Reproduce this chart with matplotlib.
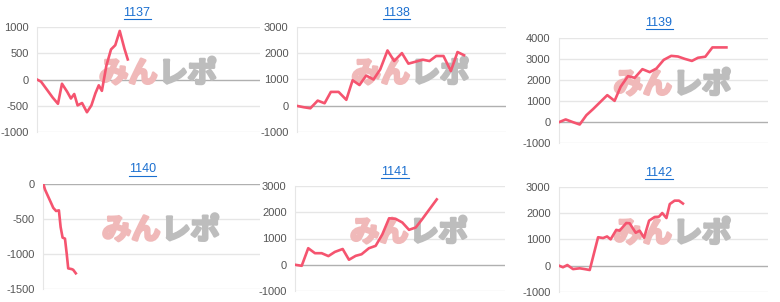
import matplotlib.pyplot as plt
import matplotlib.patheffects as pe
from matplotlib.lines import Line2D

plt.rcParams['font.family'] = ['Liberation Sans', 'DejaVu Sans']
plt.rcParams['axes.unicode_minus'] = False

# machine numbers (panel titles)
titles = ['1137', '1138', '1139', '1140', '1141', '1142']

# x positions are percent of the horizontal axis, y is the running difference
x1137 = [0, 1.8, 4.5, 7.0, 9.4, 11.2, 13.5, 15.2, 16.7, 18.2, 20.2, 22.4, 24.4, 26.2,
         27.7, 29.1, 31.1, 33.2, 35.1, 37.1, 39.2, 40.7]
y1137 = [0, -40, -195, -340, -460, -80, -230, -360, -275, -490, -445, -620, -490, -260,
         -110, -215, 260, 570, 650, 920, 585, 380]

x1138 = [0, 3.2, 6.4, 9.9, 13.2, 16.2, 19.9, 23.6, 26.6, 29.9, 33.1, 36.6, 39.8, 43.3,
         46.5, 50.2, 53.3, 57.0, 60.2, 63.4, 66.6, 70.1, 73.6, 76.8, 79.9]
y1138 = [0, -50, -90, 200, 100, 530, 530, 230, 970, 790, 1150, 1000, 1380, 2100,
         1700, 2000, 1600, 1680, 1750, 1700, 1890, 1890, 1320, 2040, 1920]

x1139 = [0, 3.2, 6.7, 9.9, 13.1, 16.3, 19.9, 23.1, 26.6, 29.5, 33.0, 36.2, 39.9, 43.4,
         46.6, 50.1, 53.7, 56.9, 60.1, 63.6, 66.5, 70.0, 73.4, 76.6, 80.1]
y1139 = [0, 130, 0, -110, 330, 620, 970, 1280, 1010, 1680, 2180, 2100, 2510, 2370,
         2540, 2950, 3140, 3110, 3000, 2900, 3050, 3100, 3540, 3540, 3540]

x1140 = [0, 0.8, 2.0, 3.4, 4.6, 5.9, 7.2, 8.0, 8.9, 10.0, 10.8, 11.5, 13.1, 13.8, 15.0]
y1140 = [0, -85, -167, -262, -345, -390, -381, -620, -770, -785, -1000, -1210, -1220,
         -1230, -1280]

x1141 = [0, 3.2, 6.3, 9.5, 12.7, 15.9, 19.0, 22.7, 25.7, 28.9, 31.7, 35.2, 38.4, 41.6,
         44.8, 47.9, 51.1, 54.3, 57.5, 60.6, 64.0, 67.5]
y1141 = [0, -40, 630, 440, 440, 330, 490, 600, 190, 340, 400, 630, 720, 1160,
         1770, 1750, 1610, 1330, 1420, 1740, 2110, 2490]

x1142 = [0, 1.9, 4.0, 6.7, 9.9, 12.3, 14.7, 18.7, 21.1, 23.0, 24.7, 27.4, 29.0, 32.2,
         33.8, 36.7, 38.6, 40.7, 43.1, 45.8, 47.8, 49.4, 51.4, 53.0, 55.3, 57.4, 59.3]
y1142 = [0, -60, 25, -130, -100, -130, -165, 1080, 1050, 1110, 1000, 1360, 1330, 1620,
         1610, 1250, 1330, 1060, 1710, 1850, 1860, 2000, 1810, 2340, 2470, 2470, 2360]

xs = [x1137, x1138, x1139, x1140, x1141, x1142]
ys = [y1137, y1138, y1139, y1140, y1141, y1142]
yticks = [[-1000, -500, 0, 500, 1000],
          [-1000, 0, 1000, 2000, 3000],
          [-1000, 0, 1000, 2000, 3000, 4000],
          [-1500, -1000, -500, 0],
          [-1000, 0, 1000, 2000, 3000],
          [-1000, 0, 1000, 2000, 3000]]

W, H = 780, 302
# axes boxes in pixels: left, top, width, height
boxes = [(37, 26.7, 223, 105.6), (297, 26.7, 209, 105.6), (559, 37.7, 209, 105.6),
         (43.3, 183.7, 216.7, 105), (295, 186, 210, 105), (559, 186.7, 209, 105.3)]
title_pos = [(137, 12.7), (396.7, 12.7), (659, 22.7), (142.7, 169.3), (395, 171.7), (659, 172.7)]

fig = plt.figure(figsize=(W / 100, H / 100), dpi=100)
fig.patch.set_facecolor('white')

title_texts = []
for i in range(6):
    l, t, w, h = boxes[i]
    ax = fig.add_axes([l / W, 1 - (t + h) / H, w / W, h / H])
    ax.set_xlim(0, 100)
    ax.set_ylim(yticks[i][0], yticks[i][-1])
    ax.set_yticks(yticks[i])
    ax.set_xticks([])
    for yv in yticks[i]:
        if yv == 0:
            ax.axhline(0, color='#b0b0b0', lw=1.0, zorder=1)
        else:
            ax.axhline(yv, color='#e6e6e6', lw=1.0, zorder=0)
    for s in ['top', 'right', 'bottom']:
        ax.spines[s].set_visible(False)
    ax.spines['left'].set_color('#e6e6e6')
    ax.tick_params(axis='y', length=0, pad=6, labelsize=8, labelcolor='#555555')

    # watermark
    ax.text(0.54, 0.56, 'みん', transform=ax.transAxes, ha='right', va='center',
            fontsize=21, fontweight='bold', color='#f0b9b9',
            family=['Noto Sans CJK JP'], zorder=2,
            path_effects=[pe.withStroke(linewidth=2, foreground='#f0b9b9')])
    ax.text(0.545, 0.56, 'レポ', transform=ax.transAxes, ha='left', va='center',
            fontsize=21, fontweight='bold', color='#bdbdbd',
            family=['Noto Sans CJK JP'], zorder=2,
            path_effects=[pe.withStroke(linewidth=2, foreground='#bdbdbd')])

    ax.plot(xs[i], ys[i], color='#f5546f', lw=1.9, zorder=3, solid_joinstyle='round')

    tx, ty = title_pos[i]
    title_texts.append(fig.text(tx / W, 1 - ty / H, titles[i], ha='center', va='center',
                                fontsize=9, color='#1a6fd0'))

# underline the titles like links
fig.canvas.draw()
r = fig.canvas.get_renderer()
for tt in title_texts:
    bb = tt.get_window_extent(r)
    yline = bb.y0 - 0.5
    fig.add_artist(Line2D([bb.x0 / W, bb.x1 / W], [yline / H, yline / H],
                          color='#1a6fd0', lw=0.8, transform=fig.transFigure))

fig.savefig('out.png', dpi=100, facecolor='white')
